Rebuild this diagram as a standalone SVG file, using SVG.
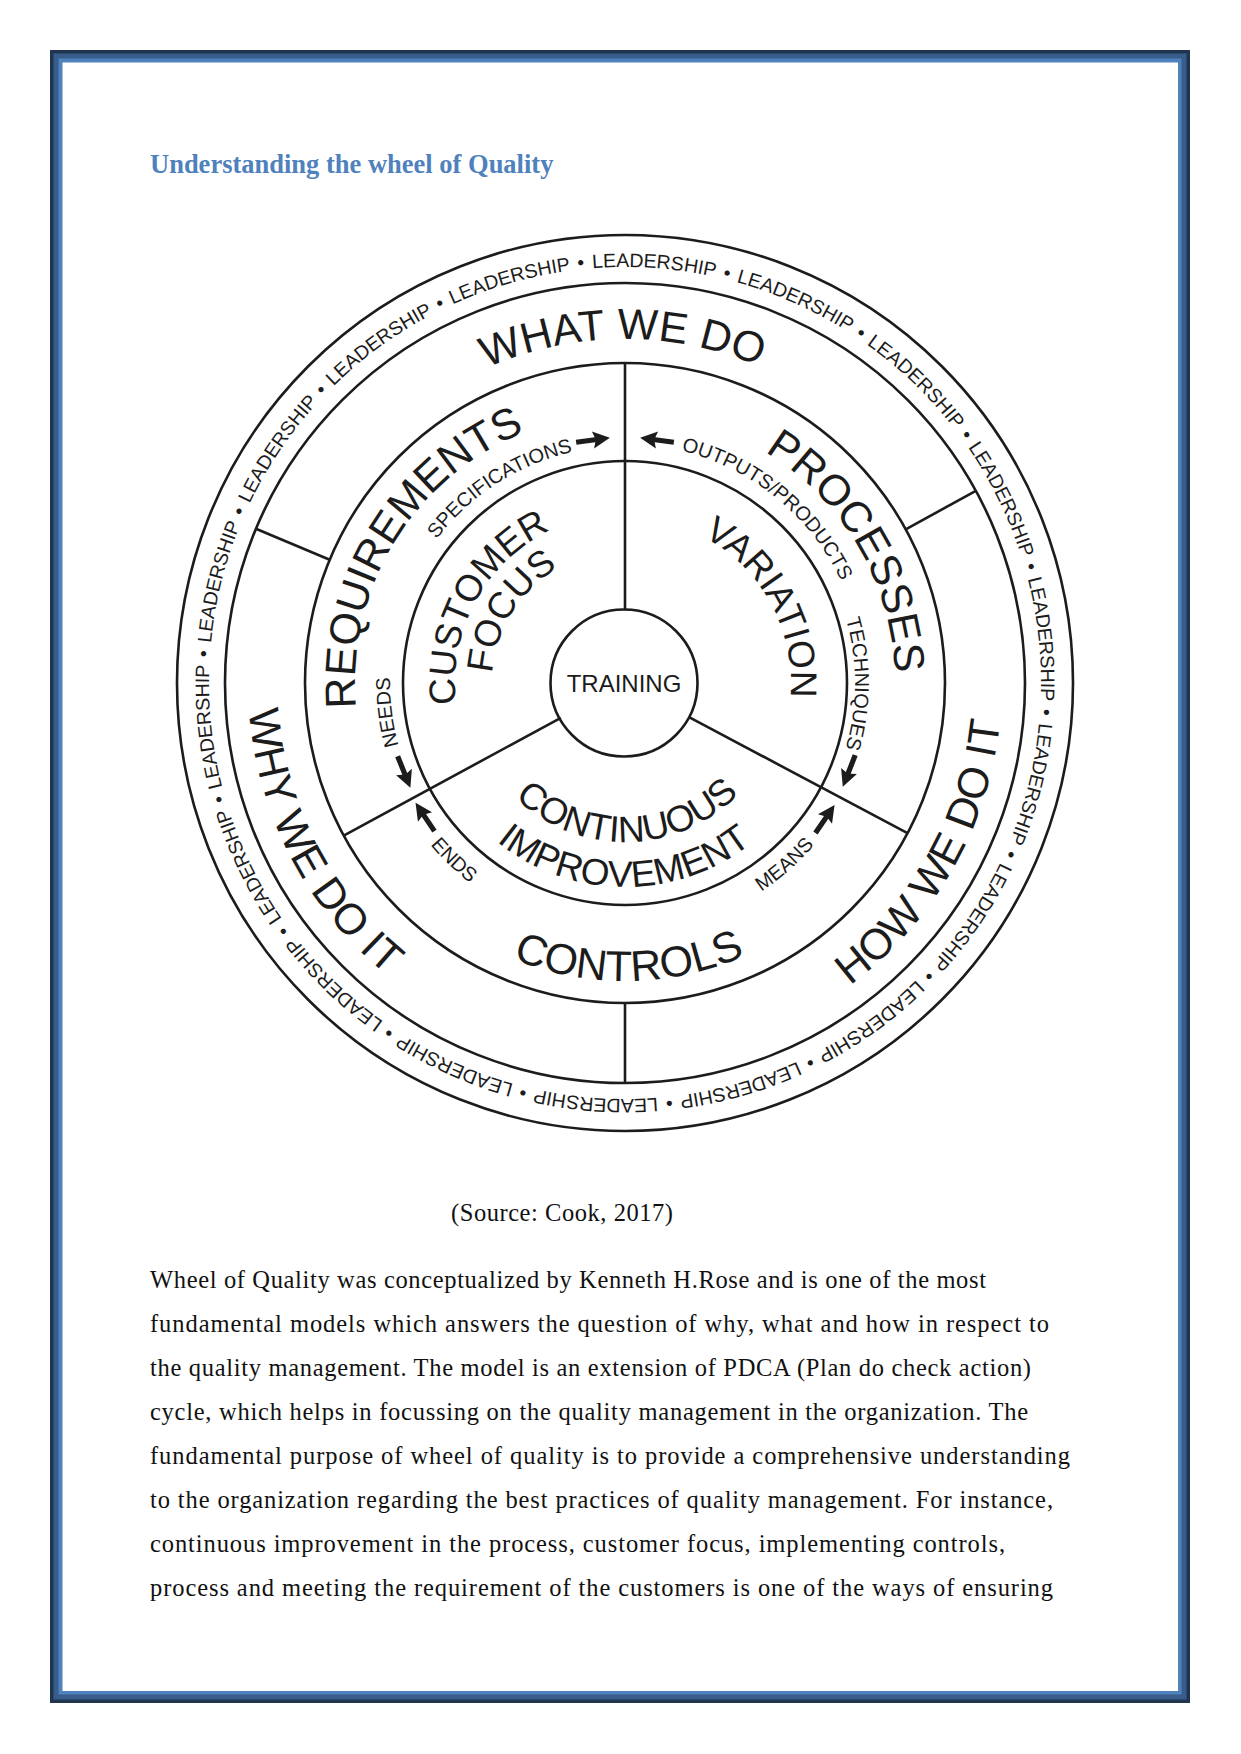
<svg xmlns="http://www.w3.org/2000/svg" xmlns:xlink="http://www.w3.org/1999/xlink" width="1241" height="1754" viewBox="0 0 1241 1754">
<style>
.w{font-family:"Liberation Sans",Arial,Helvetica,sans-serif;fill:#1c1c1c}
.big{font-size:43px}
.mid{font-size:37px}
.sm{font-size:20px}
.lead{font-size:19.5px}
.ring{fill:none;stroke:#1c1c1c;stroke-width:2.6}
.dv{stroke:#1c1c1c;stroke-width:2.6;fill:none}
.body{font-family:"Liberation Serif","Times New Roman",serif;font-size:24.5px;fill:#111}
.ttl{font-family:"Liberation Serif","Times New Roman",serif;font-size:26.5px;font-weight:bold;fill:#4f81bd}
</style>
<defs>
<path id="t416" d="M209 683 A416 416 0 0 1 1041 683"/>
<path id="t344" d="M281 683 A344 344 0 0 1 969 683"/>
<path id="t270" d="M355 683 A270 270 0 0 1 895 683"/>
<path id="t170" d="M455 683 A170 170 0 0 1 795 683"/>
<path id="t133" d="M492 683 A133 133 0 0 1 758 683"/>
<path id="t166" d="M459 683 A166 166 0 0 1 791 683"/>
<path id="t237" d="M388 683 A237 237 0 0 1 862 683"/>
<path id="t239" d="M386 683 A239 239 0 0 1 864 683"/>
<path id="t230" d="M395 683 A230 230 0 0 1 855 683"/>
<path id="t235" d="M390 683 A235 235 0 0 1 860 683"/>
<path id="b298" d="M327 683 A298 298 0 0 0 923 683"/>
<path id="b377" d="M248 683 A377 377 0 0 0 1002 683"/>
<path id="b159" d="M466 683 A159 159 0 0 0 784 683"/>
<path id="b204" d="M421 683 A204 204 0 0 0 829 683"/>
<path id="b253" d="M372 683 A253 253 0 0 0 878 683"/>
<path id="b249" d="M376 683 A249 249 0 0 0 874 683"/>
<path id="arr" d="M-17 -2.6 L2 -2.6 L0 -8.5 L17 0 L0 8.5 L2 2.6 L-17 2.6 Z" fill="#1c1c1c"/>
</defs>
<rect width="1241" height="1754" fill="#fff"/>
<g id="border">
<rect x="50" y="50" width="1140" height="1653" fill="#1f3550"/>
<rect x="53.5" y="53.5" width="1133" height="1646" fill="#385d8a"/>
<rect x="58.5" y="58.5" width="1123" height="1636" fill="#4f81bd"/>
<rect x="62.5" y="62.5" width="1115.5" height="1628.5" fill="#fff"/>
</g>
<g id="title"><text class="ttl" x="150" y="173">Understanding the wheel of Quality</text></g>
<g id="wheel">
<g id="rings">
<circle class="ring" cx="625" cy="683" r="448"/>
<circle class="ring" cx="625" cy="683" r="400"/>
<circle class="ring" cx="625" cy="683" r="320"/>
<circle class="ring" cx="625" cy="683" r="222"/>
</g>
<g id="connectors">
<line class="dv" x1="625" y1="609.5" x2="625" y2="363"/>
<line class="dv" x1="560.8" y1="717.8" x2="343.7" y2="835.6"/>
<line class="dv" x1="689.5" y1="717.3" x2="907.5" y2="833.2"/>
<line class="dv" x1="625" y1="1003" x2="625" y2="1083"/>
<line class="dv" x1="329.7" y1="559.7" x2="255.9" y2="528.8"/>
<line class="dv" x1="905.7" y1="529.3" x2="975.8" y2="490.9"/>
<use href="#arr" transform="translate(593 440) rotate(-7.5)"/>
<use href="#arr" transform="translate(657 440) rotate(187.5)"/>
<use href="#arr" transform="translate(404 772) rotate(68)"/>
<use href="#arr" transform="translate(425 817) rotate(-123.8)"/>
<use href="#arr" transform="translate(825 819) rotate(-55.8)"/>
<use href="#arr" transform="translate(849 771) rotate(111.4)"/>
</g>
<g id="leadership">
<text class="w lead" text-anchor="middle" transform="rotate(4 625 683)"><textPath href="#t416" startOffset="50%">LEADERSHIP</textPath></text>
<text class="w lead" text-anchor="middle" transform="rotate(24 625 683)"><textPath href="#t416" startOffset="50%">LEADERSHIP</textPath></text>
<text class="w lead" text-anchor="middle" transform="rotate(44 625 683)"><textPath href="#t416" startOffset="50%">LEADERSHIP</textPath></text>
<text class="w lead" text-anchor="middle" transform="rotate(64 625 683)"><textPath href="#t416" startOffset="50%">LEADERSHIP</textPath></text>
<text class="w lead" text-anchor="middle" transform="rotate(84 625 683)"><textPath href="#t416" startOffset="50%">LEADERSHIP</textPath></text>
<text class="w lead" text-anchor="middle" transform="rotate(104 625 683)"><textPath href="#t416" startOffset="50%">LEADERSHIP</textPath></text>
<text class="w lead" text-anchor="middle" transform="rotate(124 625 683)"><textPath href="#t416" startOffset="50%">LEADERSHIP</textPath></text>
<text class="w lead" text-anchor="middle" transform="rotate(144 625 683)"><textPath href="#t416" startOffset="50%">LEADERSHIP</textPath></text>
<text class="w lead" text-anchor="middle" transform="rotate(164 625 683)"><textPath href="#t416" startOffset="50%">LEADERSHIP</textPath></text>
<text class="w lead" text-anchor="middle" transform="rotate(184 625 683)"><textPath href="#t416" startOffset="50%">LEADERSHIP</textPath></text>
<text class="w lead" text-anchor="middle" transform="rotate(204 625 683)"><textPath href="#t416" startOffset="50%">LEADERSHIP</textPath></text>
<text class="w lead" text-anchor="middle" transform="rotate(224 625 683)"><textPath href="#t416" startOffset="50%">LEADERSHIP</textPath></text>
<text class="w lead" text-anchor="middle" transform="rotate(244 625 683)"><textPath href="#t416" startOffset="50%">LEADERSHIP</textPath></text>
<text class="w lead" text-anchor="middle" transform="rotate(264 625 683)"><textPath href="#t416" startOffset="50%">LEADERSHIP</textPath></text>
<text class="w lead" text-anchor="middle" transform="rotate(284 625 683)"><textPath href="#t416" startOffset="50%">LEADERSHIP</textPath></text>
<text class="w lead" text-anchor="middle" transform="rotate(304 625 683)"><textPath href="#t416" startOffset="50%">LEADERSHIP</textPath></text>
<text class="w lead" text-anchor="middle" transform="rotate(324 625 683)"><textPath href="#t416" startOffset="50%">LEADERSHIP</textPath></text>
<text class="w lead" text-anchor="middle" transform="rotate(344 625 683)"><textPath href="#t416" startOffset="50%">LEADERSHIP</textPath></text>
<text class="w lead" text-anchor="middle" transform="rotate(14 625 683)"><textPath href="#t416" startOffset="50%">•</textPath></text>
<text class="w lead" text-anchor="middle" transform="rotate(34 625 683)"><textPath href="#t416" startOffset="50%">•</textPath></text>
<text class="w lead" text-anchor="middle" transform="rotate(54 625 683)"><textPath href="#t416" startOffset="50%">•</textPath></text>
<text class="w lead" text-anchor="middle" transform="rotate(74 625 683)"><textPath href="#t416" startOffset="50%">•</textPath></text>
<text class="w lead" text-anchor="middle" transform="rotate(94 625 683)"><textPath href="#t416" startOffset="50%">•</textPath></text>
<text class="w lead" text-anchor="middle" transform="rotate(114 625 683)"><textPath href="#t416" startOffset="50%">•</textPath></text>
<text class="w lead" text-anchor="middle" transform="rotate(134 625 683)"><textPath href="#t416" startOffset="50%">•</textPath></text>
<text class="w lead" text-anchor="middle" transform="rotate(154 625 683)"><textPath href="#t416" startOffset="50%">•</textPath></text>
<text class="w lead" text-anchor="middle" transform="rotate(174 625 683)"><textPath href="#t416" startOffset="50%">•</textPath></text>
<text class="w lead" text-anchor="middle" transform="rotate(194 625 683)"><textPath href="#t416" startOffset="50%">•</textPath></text>
<text class="w lead" text-anchor="middle" transform="rotate(214 625 683)"><textPath href="#t416" startOffset="50%">•</textPath></text>
<text class="w lead" text-anchor="middle" transform="rotate(234 625 683)"><textPath href="#t416" startOffset="50%">•</textPath></text>
<text class="w lead" text-anchor="middle" transform="rotate(254 625 683)"><textPath href="#t416" startOffset="50%">•</textPath></text>
<text class="w lead" text-anchor="middle" transform="rotate(274 625 683)"><textPath href="#t416" startOffset="50%">•</textPath></text>
<text class="w lead" text-anchor="middle" transform="rotate(294 625 683)"><textPath href="#t416" startOffset="50%">•</textPath></text>
<text class="w lead" text-anchor="middle" transform="rotate(314 625 683)"><textPath href="#t416" startOffset="50%">•</textPath></text>
<text class="w lead" text-anchor="middle" transform="rotate(334 625 683)"><textPath href="#t416" startOffset="50%">•</textPath></text>
<text class="w lead" text-anchor="middle" transform="rotate(354 625 683)"><textPath href="#t416" startOffset="50%">•</textPath></text>
</g>
<g id="what-we-do"><text class="w big" text-anchor="middle" transform="rotate(-0.4 625 683)"><textPath href="#t344" startOffset="50%">WHAT WE DO</textPath></text></g>
<g id="how-we-do-it"><text class="w big" text-anchor="middle" transform="rotate(-60.4 625 683)"><textPath href="#b377" startOffset="50%">HOW WE DO IT</textPath></text></g>
<g id="why-we-do-it"><text class="w big" text-anchor="middle" transform="rotate(62.5 625 683)"><textPath href="#b377" startOffset="50%">WHY WE DO IT</textPath></text></g>
<g id="requirements"><text class="w big" text-anchor="middle" transform="rotate(-58.5 625 683)"><textPath href="#t270" startOffset="50%">REQUIREMENTS</textPath></text></g>
<g id="processes"><text class="w big" text-anchor="middle" transform="rotate(59.5 625 683)"><textPath href="#t270" startOffset="50%">PROCESSES</textPath></text></g>
<g id="controls"><text class="w big" text-anchor="middle" transform="rotate(-0.8 625 683)"><textPath href="#b298" startOffset="50%">CONTROLS</textPath></text></g>
<g id="customer-focus">
<text class="w mid" text-anchor="middle" transform="rotate(-61.6 625 683)"><textPath href="#t170" startOffset="50%">CUSTOMER</textPath></text>
<text class="w mid" text-anchor="middle" transform="rotate(-58 625 683)"><textPath href="#t133" startOffset="50%">FOCUS</textPath></text>
</g>
<g id="variation"><text class="w mid" text-anchor="middle" transform="rotate(61.5 625 683)"><textPath href="#t166" startOffset="50%">VARIATION</textPath></text></g>
<g id="continuous-improvement">
<text class="w mid" text-anchor="middle" transform="rotate(-1 625 683)"><textPath href="#b159" startOffset="50%">CONTINUOUS</textPath></text>
<text class="w mid" text-anchor="middle" transform="rotate(0.3 625 683)"><textPath href="#b204" startOffset="50%">IMPROVEMENT</textPath></text>
</g>
<g id="training">
<circle class="ring" cx="624" cy="683" r="73.5"/>
<text class="w" x="624" y="692" font-size="24" text-anchor="middle">TRAINING</text>
</g>
<g id="labels">
<text class="w sm" text-anchor="middle" transform="rotate(-32.7 625 683)"><textPath href="#t237" startOffset="50%">SPECIFICATIONS</textPath></text>
<text class="w sm" text-anchor="middle" transform="rotate(39.2 625 683)"><textPath href="#t239" startOffset="50%">OUTPUTS/PRODUCTS</textPath></text>
<text class="w sm" text-anchor="middle" transform="rotate(90.2 625 683)"><textPath href="#t230" startOffset="50%">TECHNIQUES</textPath></text>
<text class="w sm" text-anchor="middle" transform="rotate(-97 625 683)"><textPath href="#t235" startOffset="50%">NEEDS</textPath></text>
<text class="w sm" text-anchor="middle" transform="rotate(44 625 683)"><textPath href="#b253" startOffset="50%">ENDS</textPath></text>
<text class="w sm" text-anchor="middle" transform="rotate(-41.3 625 683)"><textPath href="#b249" startOffset="50%">MEANS</textPath></text>
</g>
</g>
<g id="caption"><text class="body" x="451" y="1221" textLength="222">(Source: Cook, 2017)</text></g>
<g id="body-text">
<text class="body" x="150" y="1288" textLength="836">Wheel of Quality was conceptualized by Kenneth H.Rose and is one of the most</text>
<text class="body" x="150" y="1332" textLength="899">fundamental models which answers the question of why, what and how in respect to</text>
<text class="body" x="150" y="1376" textLength="881">the quality management. The model is an extension of PDCA (Plan do check action)</text>
<text class="body" x="150" y="1420" textLength="878">cycle, which helps in focussing on the quality management in the organization. The</text>
<text class="body" x="150" y="1464" textLength="920">fundamental purpose of wheel of quality is to provide a comprehensive understanding</text>
<text class="body" x="150" y="1508" textLength="903">to the organization regarding the best practices of quality management. For instance,</text>
<text class="body" x="150" y="1552" textLength="855">continuous improvement in the process, customer focus, implementing controls,</text>
<text class="body" x="150" y="1596" textLength="903">process and meeting the requirement of the customers is one of the ways of ensuring</text>
</g>
</svg>
